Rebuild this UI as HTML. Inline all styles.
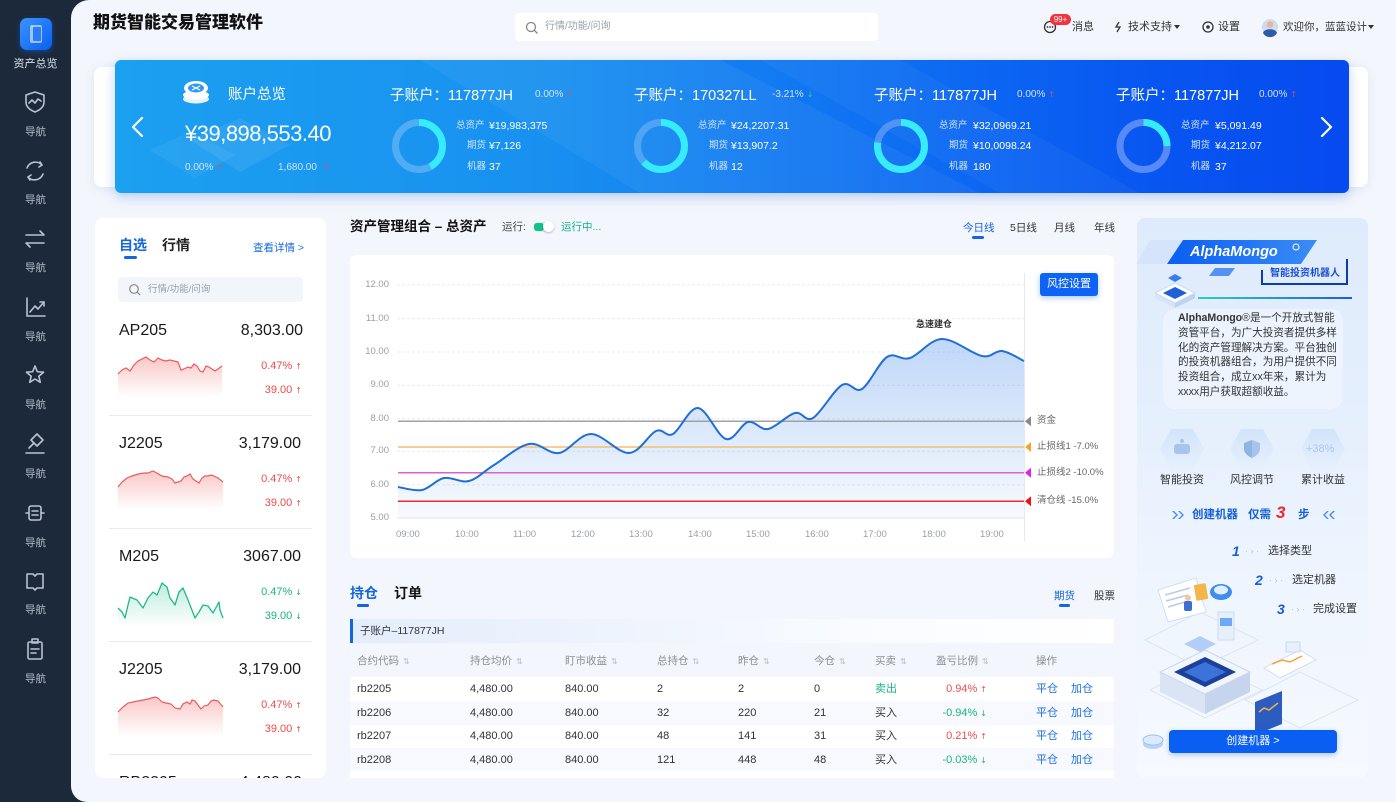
<!DOCTYPE html>
<html><head><meta charset="utf-8">
<style>
*{margin:0;padding:0;box-sizing:border-box}
body{width:1396px;height:807px;background:#fff;overflow:hidden;font-family:"Liberation Sans","Noto Sans CJK SC",sans-serif;position:relative;color:#333}
.a{position:absolute}
.t{position:absolute;white-space:nowrap;line-height:20px;height:20px}
.ar{font-family:"DejaVu Sans",sans-serif;font-size:8px;margin-left:3px}
.nl{position:absolute;left:0;width:71px;text-align:center;font-size:10.5px;color:#b4bfcc;line-height:20px}
.bw{color:#fff}
.lb{font-size:9.5px;color:#cfe2ff}
.vl{font-size:10.5px;color:#fff}
.th{font-size:10.5px;color:#8a8f99}
.th i{font-style:normal;font-family:"DejaVu Sans",sans-serif;font-size:8px;color:#b9bec7;margin-left:4px}
.td{font-size:11px;color:#333}
.op{font-size:11px;color:#1a6ee0}
.t.up,.up{color:#f04a4a}
.t.dn,.dn{color:#17b57f}
</style></head><body>

<!-- backgrounds -->
<div class="a" style="left:0;top:0;width:100px;height:802px;background:#1c293a"></div>
<div class="a" style="left:71px;top:0;width:1325px;height:802px;background:#f3f6fc;border-radius:18px 0 0 16px"></div>

<!-- search -->
<div class="a" style="left:515px;top:13px;width:363px;height:28px;background:#fff;border-radius:4px"></div>

<!-- banner back card and banner -->
<div class="a" style="left:94px;top:67px;width:1274px;height:120px;background:#fff;border-radius:8px;box-shadow:0 2px 10px rgba(40,80,160,.10)"></div>
<div class="a" style="left:115px;top:60px;width:1234px;height:133px;border-radius:6px;background:linear-gradient(90deg,#1ca0f0 0%,#1890f0 35%,#0f72f2 60%,#0855f1 85%,#064af0 100%);box-shadow:0 4px 12px rgba(10,90,230,.25)"></div>

<!-- left card -->
<div class="a" style="left:95px;top:218px;width:231px;height:560px;background:#fff;border-radius:8px"></div>
<div class="a" style="left:118px;top:277px;width:185px;height:25px;background:#f2f5fa;border-radius:4px"></div>

<!-- chart card -->
<div class="a" style="left:350px;top:255px;width:764px;height:303px;background:#fff;border-radius:6px"></div>

<!-- table -->
<div class="a" style="left:350px;top:619px;width:764px;height:24px;background:linear-gradient(90deg,#e3edfc 0%,#eef4fd 35%,#fafcff 70%,#fff 100%);border-left:3px solid #1565e0"></div>
<div class="a" style="left:350px;top:677px;width:764px;height:24px;background:#fff"></div>
<div class="a" style="left:350px;top:701px;width:764px;height:24px;background:#f7f9fe"></div>
<div class="a" style="left:350px;top:725px;width:764px;height:23px;background:#fff"></div>
<div class="a" style="left:350px;top:748px;width:764px;height:23px;background:#f7f9fe"></div>
<div class="a" style="left:350px;top:771px;width:764px;height:7px;background:#fff"></div>

<!-- right card -->
<div class="a" style="left:1137px;top:218px;width:231px;height:560px;border-radius:8px;background:linear-gradient(180deg,#deebfc 0%,#e6f0fd 40%,#eef5fe 65%,#f6f9ff 100%)"></div>
<div class="a" style="left:1163px;top:309px;width:180px;height:100px;border-radius:12px;background:rgba(255,255,255,.35)"></div>

<!-- toggles/buttons -->
<div class="a" style="left:533px;top:222px;width:21px;height:10px;border-radius:5px;background:#e1e7ee"></div>
<div class="a" style="left:534px;top:223px;width:10px;height:8px;border-radius:3px;background:#15c08a"></div>
<div class="a" style="left:543px;top:221px;width:11px;height:11px;border-radius:50%;background:#fff;box-shadow:0 1px 2px rgba(0,0,0,.25)"></div>
<div class="a" style="left:972px;top:236px;width:12px;height:3px;border-radius:2px;background:#1565e0"></div>
<div class="a" style="left:124px;top:256px;width:13px;height:3px;border-radius:2px;background:#1565e0"></div>
<div class="a" style="left:357px;top:604px;width:12px;height:3px;border-radius:2px;background:#1565e0"></div>
<div class="a" style="left:1059px;top:604px;width:11px;height:3px;border-radius:2px;background:#1565e0"></div>
<div class="a" style="left:1040px;top:273px;width:58px;height:23px;border-radius:3px;background:#0d63f3;box-shadow:0 2px 6px rgba(13,99,243,.35);color:#fff;font-size:11px;line-height:23px;text-align:center">风控设置</div>

<!-- dividers -->
<div class="a" style="left:109px;top:415px;width:203px;height:1px;background:#e8ebf0"></div>
<div class="a" style="left:109px;top:528px;width:203px;height:1px;background:#e8ebf0"></div>
<div class="a" style="left:109px;top:641px;width:203px;height:1px;background:#e8ebf0"></div>
<div class="a" style="left:109px;top:754px;width:203px;height:1px;background:#e8ebf0"></div>

<!-- logo -->
<div class="a" style="left:20px;top:18px;width:32px;height:32px;border-radius:7px;background:linear-gradient(135deg,#3a94ff,#0a5ef0);box-shadow:0 2px 6px rgba(20,110,255,.4)"></div>
<div class="a" style="left:30px;top:25px;width:12px;height:18px;border-radius:2px;background:rgba(255,255,255,.55)"></div>
<div class="a" style="left:33px;top:27px;width:8px;height:14px;border-radius:1px;background:#2a7cf8"></div>

<svg class="a" style="left:0;top:0" width="1396" height="807">
<defs>
<linearGradient id="gA" gradientUnits="userSpaceOnUse" x1="0" y1="339" x2="0" y2="518"><stop offset="0" stop-color="#3d86ea" stop-opacity=".33"/><stop offset="1" stop-color="#3d86ea" stop-opacity=".04"/></linearGradient>
<linearGradient id="gR" x1="0" y1="0" x2="0" y2="1"><stop offset="0" stop-color="#f26b6b" stop-opacity=".38"/><stop offset="1" stop-color="#f26b6b" stop-opacity="0"/></linearGradient>
<linearGradient id="gG" x1="0" y1="0" x2="0" y2="1"><stop offset="0" stop-color="#22c08d" stop-opacity=".3"/><stop offset="1" stop-color="#22c08d" stop-opacity="0"/></linearGradient>
<linearGradient id="gB" x1="0" y1="0" x2="1" y2="0"><stop offset="0" stop-color="#0a5ef2"/><stop offset="1" stop-color="#3a8cf6"/></linearGradient>
<linearGradient id="gH" x1="0" y1="0" x2="0" y2="1"><stop offset="0" stop-color="#cfe2fa"/><stop offset="1" stop-color="#e6f0fd"/></linearGradient>
<linearGradient id="gL" x1="0" y1="0" x2="1" y2="0"><stop offset="0" stop-color="#2ad0c0"/><stop offset="1" stop-color="#1a5fe0"/></linearGradient>
</defs>

<!-- sidebar icons -->
<g fill="none" stroke="#b8c3d1" stroke-width="1.6" stroke-linecap="round" stroke-linejoin="round">
<path d="M35 92 L44 95 V102 C44 107 40 110 35 112 C30 110 26 107 26 102 V95 Z"/>
<polyline points="29,103 32,100 35,103 38,99 41,101"/>
<path d="M27 168 A9 9 0 0 1 42 165"/><path d="M43 174 A9 9 0 0 1 28 177"/>
<polyline points="40,162 42,165 39,167"/><polyline points="30,180 28,177 31,175"/>
<path d="M26 235 H44 L40 231"/><path d="M44 243 H26 L30 247"/>
<path d="M27 298 V316 H45"/><polyline points="30,312 35,306 38,309 44,302"/><polyline points="40,302 44,302 44,306"/>
<polygon points="35,366 37.35,371.76 43.56,372.22 38.8,376.24 40.29,382.28 35,379 29.71,382.28 31.2,376.24 26.44,372.22 32.65,371.76"/>
<path d="M26 453 H44"/><path d="M31 440 L37 434 L43 440 L37 446 Z"/><path d="M34 443 L29 448"/>
<rect x="29" y="506" width="12" height="14" rx="2"/><path d="M26 513 H29 M41 513 H44 M32 511 H38 M32 515 H38"/>
<path d="M27 574 H33 L35 576 L37 574 H43 V588 H37 L35 590 L33 588 H27 Z"/>
<rect x="28" y="642" width="14" height="17" rx="1.5"/><rect x="32" y="639" width="6" height="4"/><path d="M31 649 H39 M31 653 H36"/>
</g>

<!-- header icons -->
<g fill="none" stroke="#333" stroke-width="1.3">
<circle cx="531" cy="27" r="4.5" stroke="#888"/><path d="M534.5 30.5 L537.5 33.5" stroke="#888"/>
<circle cx="1050" cy="27" r="5.5"/>
<circle cx="1208" cy="27" r="5"/>
<path d="M1119 22 L1116 27 H1120 L1117 32"/>
</g>
<g fill="#333"><circle cx="1047.5" cy="27" r=".9"/><circle cx="1050" cy="27" r=".9"/><circle cx="1052.5" cy="27" r=".9"/><circle cx="1208" cy="27" r="1.8"/>
<polygon points="1174,25 1180,25 1177,29"/><polygon points="1368,25 1374,25 1371,29"/></g>
<circle cx="1270" cy="27" r="8" fill="#cfdcef"/><circle cx="1270" cy="24.5" r="3.3" fill="#e9b795"/><path d="M1263 33 C1264 28 1276 28 1277 33 A8 8 0 0 1 1263 33Z" fill="#2f5aa6"/>

<!-- banner decorations -->
<polygon points="420,60 720,60 980,193 640,193" fill="#fff" opacity=".05"/>
<polygon points="760,60 900,60 1140,193 1000,193" fill="#fff" opacity=".04"/>
<polygon points="190,140 240,118 290,145 240,172" fill="#fff" opacity=".08"/>
<polygon points="150,150 190,132 235,155 195,178" fill="#fff" opacity=".06"/>
<polyline points="142,118 133,127 142,136" fill="none" stroke="#fff" stroke-width="2.2" stroke-linecap="round" stroke-linejoin="round"/>
<polyline points="1322,118 1331,127 1322,136" fill="none" stroke="#fff" stroke-width="2.2" stroke-linecap="round" stroke-linejoin="round"/>
<!-- coin icon -->
<ellipse cx="196" cy="99" rx="13" ry="4.5" fill="#e8f2ff"/><ellipse cx="196" cy="95" rx="13" ry="4.5" fill="#fff"/>
<ellipse cx="196" cy="88" rx="12" ry="7" fill="#fff"/><ellipse cx="196" cy="88" rx="8" ry="4.5" fill="#2f9af2"/>
<path d="M192 86 L200 90 M200 86 L192 90" stroke="#fff" stroke-width="1.2"/>
<!-- donuts -->
<g fill="none" stroke-width="7">
<circle cx="419" cy="146" r="23.5" stroke="#7ec0f6" stroke-opacity=".55"/>
<circle cx="419" cy="146" r="23.5" stroke="#36ecfb" stroke-dasharray="62 200" transform="rotate(-90 419 146)"/>
<circle cx="661" cy="146" r="23.5" stroke="#7ab6f6" stroke-opacity=".55"/>
<circle cx="661" cy="146" r="23.5" stroke="#36ecfb" stroke-dasharray="93 200" transform="rotate(-90 661 146)"/>
<circle cx="901" cy="146" r="23.5" stroke="#7aa8f6" stroke-opacity=".6"/>
<circle cx="901" cy="146" r="23.5" stroke="#36ecfb" stroke-dasharray="114 200" transform="rotate(-90 901 146)"/>
<circle cx="1143.5" cy="146" r="23.5" stroke="#7a9ff6" stroke-opacity=".7"/>
<circle cx="1143.5" cy="146" r="23.5" stroke="#36ecfb" stroke-dasharray="37 200" transform="rotate(-90 1143.5 146)"/>
</g>

<!-- left search icon -->
<circle cx="134" cy="289" r="4.3" fill="none" stroke="#888" stroke-width="1.2"/><path d="M137.3 292.3 L140 295" stroke="#888" stroke-width="1.2"/>

<!-- sparklines -->
<g transform="translate(118,351)">
<path d="M0,23 L4,19 L8,17 L12,20 L16,14 L20,10 L24,8 L28,6 L32,9 L36,11 L40,7 L44,9 L48,10 L52,9 L56,10 L60,11 L63,19 L66,18 L70,16 L73,17 L76,13 L79,15 L82,20 L85,21 L88,15 L91,16 L94,18 L97,20 L100,18 L104,15 L104,46 L0,46 Z" fill="url(#gR)"/>
<polyline points="0,23 4,19 8,17 12,20 16,14 20,10 24,8 28,6 32,9 36,11 40,7 44,9 48,10 52,9 56,10 60,11 63,19 66,18 70,16 73,17 76,13 79,15 82,20 85,21 88,15 91,16 94,18 97,20 100,18 104,15" fill="none" stroke="#ef5a5a" stroke-width="1.2"/>
</g>
<g transform="translate(118,464)">
<path d="M0,23 L4,18 L9,14 L14,12 L20,10 L26,9 L30,9 L35,7 L39,9 L44,12 L50,13 L54,15 L57,19 L60,18 L63,17 L66,13 L69,12 L72,10 L75,15 L78,17 L81,19 L84,14 L87,12 L90,12 L93,11 L96,12 L100,14 L105,18 L105,46 L0,46 Z" fill="url(#gR)"/>
<polyline points="0,23 4,18 9,14 14,12 20,10 26,9 30,9 35,7 39,9 44,12 50,13 54,15 57,19 60,18 63,17 66,13 69,12 72,10 75,15 78,17 81,19 84,14 87,12 90,12 93,11 96,12 100,14 105,18" fill="none" stroke="#ef5a5a" stroke-width="1.2"/>
</g>
<g transform="translate(118,577)">
<path d="M0,31 L4,35 L7,41 L10,28 L12,20 L19,23 L25,31 L30,21 L35,15 L39,18 L44,6 L49,10 L52,21 L57,28 L61,15 L65,11 L70,23 L77,41 L81,35 L85,28 L90,29 L95,36 L101,25 L102,33 L105,41 L105,50 L0,50 Z" fill="url(#gG)"/>
<polyline points="0,31 4,35 7,41 10,28 12,20 19,23 25,31 30,21 35,15 39,18 44,6 49,10 52,21 57,28 61,15 65,11 70,23 77,41 81,35 85,28 90,29 95,36 101,25 102,33 105,41" fill="none" stroke="#1fb88a" stroke-width="1.3" stroke-linejoin="round"/>
</g>
<g transform="translate(118,690)">
<path d="M0,22 L5,17 L10,13 L15,12 L20,11 L25,10 L30,9 L37,7 L40,8 L44,12 L48,13 L53,14 L57,18 L62,19 L65,14 L69,12 L72,14 L74,10 L77,11 L80,15 L83,19 L86,16 L90,15 L93,11 L96,10 L100,11 L105,17 L105,46 L0,46 Z" fill="url(#gR)"/>
<polyline points="0,22 5,17 10,13 15,12 20,11 25,10 30,9 37,7 40,8 44,12 48,13 53,14 57,18 62,19 65,14 69,12 72,14 74,10 77,11 80,15 83,19 86,16 90,15 93,11 96,10 100,11 105,17" fill="none" stroke="#ef5a5a" stroke-width="1.2"/>
</g>

<!-- chart grid -->
<g stroke="#e8ecf2" stroke-width="1" stroke-dasharray="3 2">
<line x1="397" y1="284.7" x2="1024" y2="284.7"/><line x1="397" y1="318.7" x2="1024" y2="318.7"/>
<line x1="397" y1="352" x2="1024" y2="352"/><line x1="397" y1="385.3" x2="1024" y2="385.3"/>
<line x1="397" y1="418.7" x2="1024" y2="418.7"/><line x1="397" y1="451.3" x2="1024" y2="451.3"/>
<line x1="397" y1="484.7" x2="1024" y2="484.7"/>
</g>
<line x1="397" y1="518" x2="1024" y2="518" stroke="#e0e4eb"/>
<line x1="1024.5" y1="273" x2="1024.5" y2="541" stroke="#e6e9ef"/>
<path d="M398,487 C402,487.5 414.3,491.5 422,490 C429.7,488.5 436.2,479.5 444,478 C451.8,476.5 460.7,483.2 469,481 C477.3,478.8 484,471.2 494,465 C504,458.8 518.2,446 529,444 C539.8,442 548.7,454.7 559,453 C569.3,451.3 579.3,434 591,434 C602.7,434 618.2,453.5 629,453 C639.8,452.5 648.7,434.2 656,431 C663.3,427.8 666,437.8 673,434 C680,430.2 689.2,407.2 698,408 C706.8,408.8 717.7,436.7 726,439 C734.3,441.3 741,423.7 748,422 C755,420.3 760.2,430.5 768,429 C775.8,427.5 787.5,414.8 795,413 C802.5,411.2 805.2,422.7 813,418 C820.8,413.3 833.8,389.8 842,385 C850.2,380.2 854.5,393.7 862,389 C869.5,384.3 879,362.2 887,357 C895,351.8 900.8,361 910,358 C919.2,355 930,339.3 942,339 C954,338.7 972,354 982,356 C992,358 995,350.2 1002,351 C1009,351.8 1020.3,359.3 1024,361 L1024,518 L398,518 Z" fill="url(#gA)"/>
<line x1="398" y1="421.3" x2="1024" y2="421.3" stroke="#a0a0a0" stroke-width="1.5"/>
<line x1="398" y1="447" x2="1024" y2="447" stroke="#f6be72" stroke-width="1.5"/>
<line x1="398" y1="472.7" x2="1024" y2="472.7" stroke="#d860d8" stroke-width="1.5"/>
<line x1="398" y1="501.3" x2="1024" y2="501.3" stroke="#f02a2a" stroke-width="1.5"/>
<path d="M398,487 C402,487.5 414.3,491.5 422,490 C429.7,488.5 436.2,479.5 444,478 C451.8,476.5 460.7,483.2 469,481 C477.3,478.8 484,471.2 494,465 C504,458.8 518.2,446 529,444 C539.8,442 548.7,454.7 559,453 C569.3,451.3 579.3,434 591,434 C602.7,434 618.2,453.5 629,453 C639.8,452.5 648.7,434.2 656,431 C663.3,427.8 666,437.8 673,434 C680,430.2 689.2,407.2 698,408 C706.8,408.8 717.7,436.7 726,439 C734.3,441.3 741,423.7 748,422 C755,420.3 760.2,430.5 768,429 C775.8,427.5 787.5,414.8 795,413 C802.5,411.2 805.2,422.7 813,418 C820.8,413.3 833.8,389.8 842,385 C850.2,380.2 854.5,393.7 862,389 C869.5,384.3 879,362.2 887,357 C895,351.8 900.8,361 910,358 C919.2,355 930,339.3 942,339 C954,338.7 972,354 982,356 C992,358 995,350.2 1002,351 C1009,351.8 1020.3,359.3 1024,361" fill="none" stroke="#1f6fd6" stroke-width="2"/>
<polygon points="1025,421.3 1031,416.3 1031,426.3" fill="#888"/>
<polygon points="1025,447 1031,442 1031,452" fill="#f5a623"/>
<polygon points="1025,472.7 1031,467.7 1031,477.7" fill="#e020e0"/>
<polygon points="1025,501.3 1031,496.3 1031,506.3" fill="#f01010"/>

<!-- right panel graphics -->
<polygon points="1150,240 1200,240 1186,264 1136,264" fill="#cfe0fa" opacity=".6"/>
<polygon points="1183,240 1317,240 1301,264 1167,264" fill="url(#gB)"/>
<polygon points="1215,268 1235,268 1229,276 1209,276" fill="#2f7af0" opacity=".8"/>
<path d="M1262 270 V284 H1347 V259" fill="none" stroke="#0a3fa8" stroke-width="2"/>
<rect x="1198" y="297" width="154" height="2" fill="url(#gL)"/>
<circle cx="1296" cy="247" r="3" fill="none" stroke="#fff" stroke-width="1"/>
<polygon points="1155,293 1175,303 1175,308 1155,298" fill="#d7e4f8"/>
<polygon points="1175,303 1195,293 1195,298 1175,308" fill="#bed2f2"/>
<polygon points="1175,283 1195,293 1175,303 1155,293" fill="#fff" stroke="#c9dbf5"/>
<polygon points="1175,287 1187,293 1175,299 1163,293" fill="#1f5fd8"/>
<polygon points="1175,274 1182,278 1175,282 1168,278" fill="#3a7df0"/>
<g>
<polygon points="1160,449 1171,429 1193,429 1204,449 1193,469 1171,469" fill="url(#gH)" opacity=".85"/>
<polygon points="1230,449 1241,429 1263,429 1274,449 1263,469 1241,469" fill="url(#gH)" opacity=".85"/>
<polygon points="1301,449 1312,429 1334,429 1345,449 1334,469 1312,469" fill="url(#gH)" opacity=".85"/>
<rect x="1174" y="444" width="16" height="10" rx="3" fill="#a6c4ec"/><circle cx="1182" cy="441" r="2" fill="#a6c4ec"/>
<path d="M1252 440 L1260 443 V449 C1260 453 1256 456 1252 458 C1248 456 1244 453 1244 449 V443 Z" fill="#a6c4ec"/>
<path d="M1252 440 V458 C1248 456 1244 453 1244 449 V443 Z" fill="#8fb4e6"/>
</g>
<g fill="#4a8ef0"><polygon points="1172,511 1176,515 1172,519 1174,519 1178,515 1174,511"/><polygon points="1178,511 1182,515 1178,519 1180,519 1184,515 1180,511"/>
<polygon points="1327,511 1323,515 1327,519 1329,519 1325,515 1329,511"/><polygon points="1333,511 1329,515 1333,519 1335,519 1331,515 1335,511"/></g>
<!-- illustration -->
<g fill="none" stroke="#dbe5f2" stroke-width="1">
<polygon points="1145,640 1200,612 1258,640 1200,668"/>
<polygon points="1245,700 1300,672 1358,700 1300,728"/>
<polygon points="1150,690 1205,662 1262,690 1205,718"/>
</g>
<polygon points="1158,590 1196,578 1206,612 1168,622" fill="#fff" stroke="#d3def0"/>
<path d="M1165 595 L1190 588 M1166 601 L1188 595 M1168 607 L1185 602" stroke="#b8cbe8" stroke-width="1.5"/>
<rect x="1195" y="584" width="12" height="16" rx="1" fill="#f2b64a" transform="rotate(-10 1201 592)"/>
<circle cx="1188" cy="598" r="3" fill="#f0c7a0"/><rect x="1184" y="601" width="8" height="10" rx="2" fill="#3c6fd0"/>
<ellipse cx="1221" cy="592" rx="11" ry="8" fill="#3d8ef0"/><ellipse cx="1221" cy="590" rx="7" ry="4.5" fill="#fff" opacity=".85"/>
<rect x="1218" y="612" width="16" height="28" fill="#e6effc" stroke="#cfdcef"/><rect x="1220" y="618" width="12" height="8" fill="#3c8cf0" opacity=".7"/>
<polygon points="1160,672 1205,694 1205,714 1160,692" fill="#dae4f5"/>
<polygon points="1205,694 1250,672 1250,692 1205,714" fill="#c6d4ee"/>
<polygon points="1205,650 1250,672 1205,694 1160,672" fill="#f1f5fc" stroke="#cad7ea"/>
<polygon points="1205,657 1236,672 1205,687 1174,672" fill="#1c3f9a"/>
<polygon points="1205,662 1226,672 1205,682 1184,672" fill="#3c73d8"/>
<polygon points="1200,636 1216,644 1200,652 1184,644" fill="#9ec0f5" opacity=".75"/>
<polygon points="1264,668 1300,650 1316,660 1280,678" fill="#fff" stroke="#d3def0"/>
<path d="M1272 664 L1282 660 L1290 662 L1302 656" stroke="#f2a43a" stroke-width="1.5" fill="none"/>
<rect x="1286" y="642" width="14" height="10" rx="1" fill="#e8f0fc" stroke="#c8d7ee"/>
<polygon points="1255,702 1282,691 1282,724 1255,735" fill="#2d5cc0"/>
<path d="M1259 712 L1264 708 L1269 710 L1278 703" stroke="#f2b04a" stroke-width="1.5" fill="none"/>
<ellipse cx="1153" cy="744" rx="10" ry="5" fill="#b8d4f6"/><ellipse cx="1153" cy="740" rx="10" ry="5" fill="#dcebfc" stroke="#9cc0f0"/>
</svg>

<!-- sidebar text -->
<div class="nl" style="top:54px;color:#dbe2ea;font-size:11px">资产总览</div>
<div class="nl" style="top:122px">导航</div>
<div class="nl" style="top:190px">导航</div>
<div class="nl" style="top:258px">导航</div>
<div class="nl" style="top:327px">导航</div>
<div class="nl" style="top:395px">导航</div>
<div class="nl" style="top:464px">导航</div>
<div class="nl" style="top:533px">导航</div>
<div class="nl" style="top:600px">导航</div>
<div class="nl" style="top:669px">导航</div>

<!-- header -->
<div class="t" style="left:93px;top:13px;font-size:17px;font-weight:900;color:#111">期货智能交易管理软件</div>
<div class="t" style="left:545px;top:17px;font-size:10px;color:#9aa0a8">行情/功能/问询</div>
<div class="a" style="left:1050px;top:14px;width:21px;height:11px;border-radius:6px;background:#f5313c;color:#fff;font-size:8px;line-height:11px;text-align:center">99+</div>
<div class="t" style="left:1072px;top:17px;font-size:11px">消息</div>
<div class="t" style="left:1128px;top:17px;font-size:11px">技术支持</div>
<div class="t" style="left:1218px;top:17px;font-size:11px">设置</div>
<div class="t" style="left:1283px;top:17px;font-size:10.5px">欢迎你，蓝蓝设计</div>

<!-- banner text -->
<div class="t bw" style="left:228px;top:85px;font-size:14.5px">账户总览</div>
<div class="t bw" style="left:185px;top:124px;font-size:22px;letter-spacing:-.5px">¥39,898,553.40</div>
<div class="t" style="left:185px;top:158px;font-size:10px;color:#cfe4ff">0.00%<span class="ar up">↑</span></div>
<div class="t" style="left:278px;top:158px;font-size:10px;color:#cfe4ff">1,680.00<span class="ar up" style="margin-left:6px">↑</span></div>

<div class="t bw" style="left:390px;top:86px;font-size:14.5px">子账户：117877JH</div>
<div class="t" style="left:535px;top:85px;font-size:10px;color:#cfe4ff">0.00%<span class="ar up">↑</span></div>
<div class="t lb" style="left:456px;top:116px">总资产</div><div class="t vl" style="left:489px;top:116px">¥19,983,375</div>
<div class="t lb" style="left:467px;top:136px">期货</div><div class="t vl" style="left:489px;top:136px">¥7,126</div>
<div class="t lb" style="left:467px;top:157px">机器</div><div class="t vl" style="left:489px;top:157px">37</div>

<div class="t bw" style="left:634px;top:86px;font-size:14.5px">子账户：170327LL</div>
<div class="t" style="left:772px;top:85px;font-size:10px;color:#cfe4ff">-3.21%<span class="ar" style="color:#2ad18a">↓</span></div>
<div class="t lb" style="left:698px;top:116px">总资产</div><div class="t vl" style="left:731px;top:116px">¥24,2207.31</div>
<div class="t lb" style="left:709px;top:136px">期货</div><div class="t vl" style="left:731px;top:136px">¥13,907.2</div>
<div class="t lb" style="left:709px;top:157px">机器</div><div class="t vl" style="left:731px;top:157px">12</div>

<div class="t bw" style="left:874px;top:86px;font-size:14.5px">子账户：117877JH</div>
<div class="t" style="left:1017px;top:85px;font-size:10px;color:#cfe4ff">0.00%<span class="ar up">↑</span></div>
<div class="t lb" style="left:939px;top:116px">总资产</div><div class="t vl" style="left:973px;top:116px">¥32,0969.21</div>
<div class="t lb" style="left:949px;top:136px">期货</div><div class="t vl" style="left:973px;top:136px">¥10,0098.24</div>
<div class="t lb" style="left:949px;top:157px">机器</div><div class="t vl" style="left:973px;top:157px">180</div>

<div class="t bw" style="left:1116px;top:86px;font-size:14.5px">子账户：117877JH</div>
<div class="t" style="left:1259px;top:85px;font-size:10px;color:#cfe4ff">0.00%<span class="ar up">↑</span></div>
<div class="t lb" style="left:1181px;top:116px">总资产</div><div class="t vl" style="left:1215px;top:116px">¥5,091.49</div>
<div class="t lb" style="left:1191px;top:136px">期货</div><div class="t vl" style="left:1215px;top:136px">¥4,212.07</div>
<div class="t lb" style="left:1191px;top:157px">机器</div><div class="t vl" style="left:1215px;top:157px">37</div>

<!-- left card text -->
<div class="t" style="left:119px;top:235px;font-size:14px;font-weight:700;color:#1565e0">自选</div>
<div class="t" style="left:162px;top:235px;font-size:14px;font-weight:700;color:#222">行情</div>
<div class="t" style="left:253px;top:238px;font-size:10.5px;color:#1a6be0">查看详情 &gt;</div>
<div class="t" style="left:148px;top:280px;font-size:9.5px;color:#9aa0a8">行情/功能/问询</div>

<div class="t" style="left:119px;top:321px;font-size:16px;color:#1a1a1a">AP205</div>
<div class="t" style="right:1093px;top:321px;font-size:16px;color:#1a1a1a">8,303.00</div>
<div class="t up" style="right:1094px;top:356px;font-size:11px">0.47%<span class="ar">↑</span></div>
<div class="t up" style="right:1094px;top:380px;font-size:11px">39.00<span class="ar">↑</span></div>

<div class="t" style="left:119px;top:434px;font-size:16px;color:#1a1a1a">J2205</div>
<div class="t" style="right:1095px;top:434px;font-size:16px;color:#1a1a1a">3,179.00</div>
<div class="t up" style="right:1094px;top:469px;font-size:11px">0.47%<span class="ar">↑</span></div>
<div class="t up" style="right:1094px;top:493px;font-size:11px">39.00<span class="ar">↑</span></div>

<div class="t" style="left:119px;top:547px;font-size:16px;color:#1a1a1a">M205</div>
<div class="t" style="right:1095px;top:547px;font-size:16px;color:#1a1a1a">3067.00</div>
<div class="t dn" style="right:1094px;top:582px;font-size:11px">0.47%<span class="ar">↓</span></div>
<div class="t dn" style="right:1094px;top:606px;font-size:11px">39.00<span class="ar">↓</span></div>

<div class="t" style="left:119px;top:660px;font-size:16px;color:#1a1a1a">J2205</div>
<div class="t" style="right:1095px;top:660px;font-size:16px;color:#1a1a1a">3,179.00</div>
<div class="t up" style="right:1094px;top:695px;font-size:11px">0.47%<span class="ar">↑</span></div>
<div class="t up" style="right:1094px;top:719px;font-size:11px">39.00<span class="ar">↑</span></div>

<div class="a" style="left:95px;top:760px;width:231px;height:18px;overflow:hidden">
<div class="t" style="left:24px;top:13px;font-size:16px;color:#1a1a1a">RB2205</div>
<div class="t" style="right:24px;top:13px;font-size:16px;color:#1a1a1a">4,480.00</div>
</div>

<!-- chart header -->
<div class="t" style="left:350px;top:217px;font-size:13.5px;font-weight:700;color:#111">资产管理组合 – 总资产</div>
<div class="t" style="left:502px;top:217px;font-size:10.5px;color:#444">运行:</div>
<div class="t" style="left:561px;top:217px;font-size:10.5px;color:#15b08a">运行中...</div>
<div class="t" style="left:963px;top:218px;font-size:10.5px;color:#1565e0">今日线</div>
<div class="t" style="left:1010px;top:218px;font-size:10.5px;color:#333">5日线</div>
<div class="t" style="left:1054px;top:218px;font-size:10.5px;color:#333">月线</div>
<div class="t" style="left:1094px;top:218px;font-size:10.5px;color:#333">年线</div>

<!-- y labels -->
<div class="t" style="right:1007px;top:275px;font-size:9.5px;color:#9a9ea6">12.00</div>
<div class="t" style="right:1007px;top:309px;font-size:9.5px;color:#9a9ea6">11.00</div>
<div class="t" style="right:1007px;top:342px;font-size:9.5px;color:#9a9ea6">10.00</div>
<div class="t" style="right:1007px;top:375px;font-size:9.5px;color:#9a9ea6">9.00</div>
<div class="t" style="right:1007px;top:409px;font-size:9.5px;color:#9a9ea6">8.00</div>
<div class="t" style="right:1007px;top:441px;font-size:9.5px;color:#9a9ea6">7.00</div>
<div class="t" style="right:1007px;top:475px;font-size:9.5px;color:#9a9ea6">6.00</div>
<div class="t" style="right:1007px;top:508px;font-size:9.5px;color:#9a9ea6">5.00</div>
<!-- x labels -->
<div class="t" style="left:396px;top:525px;font-size:9.5px;color:#9a9ea6">09:00</div>
<div class="t" style="left:455px;top:525px;font-size:9.5px;color:#9a9ea6">10:00</div>
<div class="t" style="left:513px;top:525px;font-size:9.5px;color:#9a9ea6">11:00</div>
<div class="t" style="left:571px;top:525px;font-size:9.5px;color:#9a9ea6">12:00</div>
<div class="t" style="left:629px;top:525px;font-size:9.5px;color:#9a9ea6">13:00</div>
<div class="t" style="left:688px;top:525px;font-size:9.5px;color:#9a9ea6">14:00</div>
<div class="t" style="left:746px;top:525px;font-size:9.5px;color:#9a9ea6">15:00</div>
<div class="t" style="left:805px;top:525px;font-size:9.5px;color:#9a9ea6">16:00</div>
<div class="t" style="left:863px;top:525px;font-size:9.5px;color:#9a9ea6">17:00</div>
<div class="t" style="left:922px;top:525px;font-size:9.5px;color:#9a9ea6">18:00</div>
<div class="t" style="left:980px;top:525px;font-size:9.5px;color:#9a9ea6">19:00</div>
<div class="t" style="left:916px;top:314px;font-size:9px;font-weight:700;color:#333">急速建仓</div>
<div class="t" style="left:1037px;top:411px;font-size:9.5px;color:#666">资金</div>
<div class="t" style="left:1037px;top:437px;font-size:9.5px;color:#666">止损线1 -7.0%</div>
<div class="t" style="left:1037px;top:463px;font-size:9.5px;color:#666">止损线2 -10.0%</div>
<div class="t" style="left:1037px;top:491px;font-size:9.5px;color:#666">清仓线 -15.0%</div>

<!-- table -->
<div class="t" style="left:350px;top:583px;font-size:14px;font-weight:700;color:#1565e0">持仓</div>
<div class="t" style="left:394px;top:583px;font-size:14px;font-weight:700;color:#111">订单</div>
<div class="t" style="left:1054px;top:586px;font-size:10.5px;color:#1565e0">期货</div>
<div class="t" style="left:1094px;top:586px;font-size:10.5px;color:#333">股票</div>
<div class="t" style="left:360px;top:621px;font-size:10.5px;color:#333">子账户–117877JH</div>

<div class="t th" style="left:357px;top:651px">合约代码<i>⇅</i></div>
<div class="t th" style="left:470px;top:651px">持仓均价<i>⇅</i></div>
<div class="t th" style="left:565px;top:651px">盯市收益<i>⇅</i></div>
<div class="t th" style="left:657px;top:651px">总持仓<i>⇅</i></div>
<div class="t th" style="left:738px;top:651px">昨仓<i>⇅</i></div>
<div class="t th" style="left:814px;top:651px">今仓<i>⇅</i></div>
<div class="t th" style="left:875px;top:651px">买卖<i>⇅</i></div>
<div class="t th" style="left:936px;top:651px">盈亏比例<i>⇅</i></div>
<div class="t th" style="left:1036px;top:651px">操作</div>

<div class="t td" style="left:357px;top:679px">rb2205</div><div class="t td" style="left:470px;top:679px">4,480.00</div><div class="t td" style="left:565px;top:679px">840.00</div><div class="t td" style="left:657px;top:679px">2</div><div class="t td" style="left:738px;top:679px">2</div><div class="t td" style="left:814px;top:679px">0</div><div class="t td dn" style="left:875px;top:679px">卖出</div><div class="t td up" style="right:409px;top:679px">0.94%<span class="ar">↑</span></div><div class="t op" style="left:1036px;top:679px">平仓</div><div class="t op" style="left:1071px;top:679px">加仓</div>

<div class="t td" style="left:357px;top:703px">rb2206</div><div class="t td" style="left:470px;top:703px">4,480.00</div><div class="t td" style="left:565px;top:703px">840.00</div><div class="t td" style="left:657px;top:703px">32</div><div class="t td" style="left:738px;top:703px">220</div><div class="t td" style="left:814px;top:703px">21</div><div class="t td" style="left:875px;top:703px">买入</div><div class="t td dn" style="right:409px;top:703px">-0.94%<span class="ar">↓</span></div><div class="t op" style="left:1036px;top:703px">平仓</div><div class="t op" style="left:1071px;top:703px">加仓</div>

<div class="t td" style="left:357px;top:726px">rb2207</div><div class="t td" style="left:470px;top:726px">4,480.00</div><div class="t td" style="left:565px;top:726px">840.00</div><div class="t td" style="left:657px;top:726px">48</div><div class="t td" style="left:738px;top:726px">141</div><div class="t td" style="left:814px;top:726px">31</div><div class="t td" style="left:875px;top:726px">买入</div><div class="t td up" style="right:409px;top:726px">0.21%<span class="ar">↑</span></div><div class="t op" style="left:1036px;top:726px">平仓</div><div class="t op" style="left:1071px;top:726px">加仓</div>

<div class="t td" style="left:357px;top:750px">rb2208</div><div class="t td" style="left:470px;top:750px">4,480.00</div><div class="t td" style="left:565px;top:750px">840.00</div><div class="t td" style="left:657px;top:750px">121</div><div class="t td" style="left:738px;top:750px">448</div><div class="t td" style="left:814px;top:750px">48</div><div class="t td" style="left:875px;top:750px">买入</div><div class="t td dn" style="right:409px;top:750px">-0.03%<span class="ar">↓</span></div><div class="t op" style="left:1036px;top:750px">平仓</div><div class="t op" style="left:1071px;top:750px">加仓</div>

<!-- right panel text -->
<div class="t" style="left:1190px;top:242px;font-size:14.5px;font-weight:700;font-style:italic;color:#fff">AlphaMongo</div>
<div class="t" style="left:1270px;top:264px;font-size:10px;font-weight:700;color:#1a4fd0">智能投资机器人</div>
<div class="a" style="left:1178px;top:311px;font-size:10.6px;line-height:14.8px;color:#333;white-space:pre"><b>AlphaMongo</b>®是一个开放式智能
资管平台，为广大投资者提供多样
化的资产管理解决方案。平台独创
的投资机器组合，为用户提供不同
投资组合，成立xx年来，累计为
xxxx用户获取超额收益。</div>
<div class="t" style="left:1306px;top:439px;font-size:11px;color:#a9c6ee">+38%</div>
<div class="t" style="left:1160px;top:470px;font-size:11px;color:#333">智能投资</div>
<div class="t" style="left:1230px;top:470px;font-size:11px;color:#333">风控调节</div>
<div class="t" style="left:1301px;top:470px;font-size:11px;color:#333">累计收益</div>
<div class="t" style="left:1192px;top:505px;font-size:11.5px;font-weight:700;color:#1560d6">创建机器</div>
<div class="t" style="left:1248px;top:505px;font-size:11.5px;font-weight:700;color:#1560d6">仅需</div>
<div class="t" style="left:1276px;top:503px;font-size:17px;font-weight:700;font-style:italic;color:#f0282d">3</div>
<div class="t" style="left:1298px;top:505px;font-size:11.5px;font-weight:700;color:#1560d6">步</div>

<div class="t" style="left:1232px;top:541px;font-size:14px;font-weight:700;font-style:italic;color:#1a5fd8">1</div>
<div class="t" style="left:1245px;top:541px;font-size:9px;color:#b0c4e0">· › ·</div>
<div class="t" style="left:1268px;top:541px;font-size:11px;color:#333">选择类型</div>
<div class="t" style="left:1255px;top:570px;font-size:14px;font-weight:700;font-style:italic;color:#1a5fd8">2</div>
<div class="t" style="left:1269px;top:570px;font-size:9px;color:#b0c4e0">· › ·</div>
<div class="t" style="left:1292px;top:570px;font-size:11px;color:#333">选定机器</div>
<div class="t" style="left:1277px;top:599px;font-size:14px;font-weight:700;font-style:italic;color:#1a5fd8">3</div>
<div class="t" style="left:1291px;top:599px;font-size:9px;color:#b0c4e0">· › ·</div>
<div class="t" style="left:1313px;top:599px;font-size:11px;color:#333">完成设置</div>

<div class="a" style="left:1169px;top:730px;width:168px;height:23px;border-radius:4px;background:#0b5ef2;box-shadow:0 2px 6px rgba(11,94,242,.3);color:#fff;font-size:11px;line-height:23px;text-align:center">创建机器 &gt;</div>

</body></html>
